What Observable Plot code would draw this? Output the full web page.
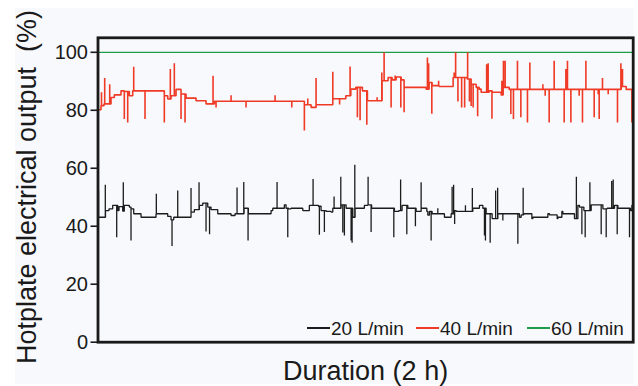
<!DOCTYPE html>
<html>
<head>
<meta charset="utf-8">
<script src="https://cdn.jsdelivr.net/npm/d3@7"></script>
<script src="https://cdn.jsdelivr.net/npm/@observablehq/plot@0.6"></script>
<style>
  html, body { margin: 0; padding: 0; background: #ffffff; }
  #wrap { position: relative; width: 638px; height: 386px; font-family: 'Liberation Sans', Arial, sans-serif; color: #1a1a1a; }
  #bg { position: absolute; left: 15px; top: 8px; width: 619px; height: 376px; background: #f8f9fc; }
  #chart { position: absolute; left: 0; top: 0; }
  .lg { position: absolute; font-size: 19px; line-height: 19px; white-space: nowrap; }
  .sw { position: absolute; height: 1.6px; width: 23px; }
</style>
</head>
<body>
<div id="wrap"><div id="bg"></div><div id="chart"></div><div id="legend"></div></div>
<script>
// time axis: 535 samples over the 2 h run (no ticks on the original)
const durationSamples = 535;
const yTicks = [0, 20, 40, 60, 80, 100];
const seriesNames = ["20 L/min", "40 L/min", "60 L/min"];
const seriesColors = ["#1c1c1c", "#ef3a26", "#1e9b4b"];

// 40 L/min : step levels
const redLevelT = [0,3,6,13,16.3,23,26.3,31.3,34.7,66.3,69.7,73,78,83,88,98,108,116.3,206.3,213,218,234.7,247.7,252.7,257.7,264.3,269.3,284,290,294,298,303,306,328,331,334,341,355,369,373,378,381,383,391,394,403,405,411,523,528];
const redLevelV = [80.2,81.6,82.2,84.4,85.3,86.7,86.5,85.0,86.7,85.0,83.9,85.0,87.2,85.6,84.2,83.3,82.2,83.1,81.9,81.0,81.9,84.0,85.0,87.3,87.9,86.7,83.3,90.2,91.3,90.5,91.5,90.5,87.9,87.3,89.6,88.5,88.2,91.3,90.8,89.0,87.9,87.3,86.2,86.7,86.2,85.3,87.9,87.2,88.2,87.2];
// 40 L/min : spikes
const redUpT = [3.5,6.7,11.7,35.7,72.3,76.3,115,133,177,209.7,218,234.7,252,279,283.7,286,297,329.3,330.5,340.5,356,357.5,369.5,388.5,390,403.7,405.3,407,419.3,431.7,444.7,456,467.7,469.3,487.7,504.3,522.7,524.3];
const redUpV = [86.2,91.1,89.0,95.0,94.2,96.2,91.9,85.2,85.2,84.1,91.1,93.3,95.1,84.5,93.0,100.0,92.0,98.2,96.2,90.2,93.0,100.0,100.0,95.9,96.2,90.2,97.1,97.1,97.1,96.5,89.0,97.1,94.2,97.1,97.1,91.1,96.2,94.2];
const redDownT = [26.3,29.7,47,66.3,83,87,118,148,193.7,206.3,241.5,259.3,262,268.7,293,302.7,306,333.7,359.8,363.5,366.5,371.3,373,375,379.5,393.8,412.7,415.3,422.7,429.3,447,451,466,472.7,481,484.3,496,500,501,510,519.3,533.7];
const redDownV = [77.0,75.8,77.0,75.8,77.0,75.8,81.0,81.0,81.0,73.0,82.0,77.6,76.6,75.0,81.0,81.0,79.3,78.8,83.0,81.0,81.0,83.0,81.5,81.0,77.9,77.1,78.7,77.0,77.6,75.8,85.0,75.8,75.8,75.8,85.0,75.8,77.6,85.5,77.0,85.5,75.8,75.8];

// 20 L/min : step levels
const blackLevelT = [0,7.5,11,14.7,19.7,21,24.7,26.3,31.3,33,35.7,43,58,69.7,73,75.7,93,96.3,101.3,104.7,109.7,113,119.7,133,137,146,150.3,173,174.7,186.3,188,190.5,193,204.7,211.3,220.3,223,228,233,234.7,243,248,254.7,257,266.3,269.7,273.5,296.3,300.7,304,309.7,318,323,328.7,329.7,331.3,334,346.3,353,356.3,358,374.7,381.3,384.7,388,394,399.7,421.3,423,425.5,433.7,434.7,449.7,451.3,459,459.7,463.7,464.7,476.3,479.7,481.3,485.7,493,504.7,509,516.3,519.7,532.3,533.7];
const blackLevelV = [43.1,45.4,46.0,47.2,45.4,46.8,45.2,47.2,46.6,46.0,44.3,43.1,44.3,43.4,42.2,43.1,44.9,45.7,47.2,48.0,46.6,45.7,44.3,43.7,44.3,46.2,44.3,45.4,46.2,47.4,46.2,46.0,46.2,45.4,47.2,46.9,45.4,45.1,44.9,46.2,47.4,46.2,43.1,46.2,47.2,47.4,46.2,45.1,45.4,47.2,46.2,45.1,46.2,45.1,43.8,45.1,44.3,43.1,44.3,45.4,45.1,46.2,47.2,46.2,44.3,42.6,44.3,43.1,43.9,44.3,42.6,43.1,44.3,43.9,42.6,43.1,45.1,44.3,42.6,47.2,46.6,45.4,47.4,46.0,46.2,47.2,46.2,45.4,47.2];
// 20 L/min : spikes
const blackUpT = [0.5,7.3,25.3,58.3,79.7,93,101,139,145.7,179,215,236,242.7,256.7,270,302.5,323,339.7,354,355.5,367.3,374.2,397.5,399.5,425,478.2,491.7,513.5,515];
const blackUpV = [52.3,54.3,55.2,51.2,52.3,53.2,55.2,53.4,55.3,55.3,56.3,50.3,57.1,61.2,57.1,56.1,55.2,46.2,53.6,54.3,47.2,53.2,52.3,53.3,53.3,57.1,55.2,55.6,56.1];
const blackDownT = [18.7,33,74,108,111.5,150,189.7,221.3,226.3,244.7,246.3,253,254,273,295.7,308.7,317.3,333,356.5,386.3,387.3,392,404.7,419.7,483.7,487,503,508,519,531.3];
const blackDownV = [36.2,35.1,33.2,38.2,37.2,35.1,36.2,37.1,38.0,37.8,36.8,35.1,34.3,38.0,36.2,37.2,40.0,35.1,40.8,36.8,35.1,34.3,42.0,34.0,37.2,36.2,37.2,36.2,37.2,36.2];

// 60 L/min : constant full output
const greenT = [0, 535];
const greenV = [100, 100];

function buildPath(levT, levV, upT, upV, dnT, dnV, endT) {
  const ev = [];
  levT.forEach((t, i) => { if (i > 0) ev.push({t, k: 0, v: levV[i]}); });
  upT.forEach((t, i) => ev.push({t, k: 1, v: upV[i]}));
  dnT.forEach((t, i) => ev.push({t, k: 1, v: dnV[i]}));
  ev.sort((a, b) => a.t - b.t || a.k - b.k);
  let cur = levV[0];
  const pts = [{t: levT[0], v: cur}];
  for (const e of ev) {
    if (e.k === 0) { pts.push({t: e.t, v: cur}); cur = e.v; pts.push({t: e.t, v: cur}); }
    else { pts.push({t: e.t, v: cur}, {t: e.t, v: e.v}, {t: e.t, v: cur}); }
  }
  pts.push({t: endT, v: cur});
  return pts;
}

const redPts = buildPath(redLevelT, redLevelV, redUpT, redUpV, redDownT, redDownV, durationSamples);
const blackPts = buildPath(blackLevelT, blackLevelV, blackUpT, blackUpV, blackDownT, blackDownV, durationSamples);
const greenPts = greenT.map((t, i) => ({t, v: greenV[i]}));

const chart = Plot.plot({
  width: 638, height: 386,
  marginLeft: 97.5, marginRight: 5.3, marginTop: 37.3, marginBottom: 44.3,
  x: {domain: [0, durationSamples], axis: null},
  y: {domain: [0, 105], axis: null},
  style: {background: "transparent", fontFamily: "'Liberation Sans', Arial, sans-serif", fontSize: "20px", color: "#1a1a1a", overflow: "visible"},
  marks: [
    Plot.line(greenPts, {x: "t", y: "v", stroke: seriesColors[2], strokeWidth: 1.3}),
    Plot.line(redPts, {x: "t", y: "v", stroke: seriesColors[1], strokeWidth: 1.6, strokeLinejoin: "miter"}),
    Plot.line(blackPts, {x: "t", y: "v", stroke: seriesColors[0], strokeWidth: 1.3, strokeLinejoin: "miter"}),
    Plot.axisY({ticks: yTicks, tickSize: 7, tickPadding: 3, strokeWidth: 1.6, label: null, fontSize: 20, fill: "#1a1a1a"}),
    Plot.frame({stroke: "#1a1a1a", strokeWidth: 2.8}),
    Plot.text(["Hotplate electrical output\u00a0\u00a0(%)"], {text: d => d, frameAnchor: "left", textAnchor: "middle", lineAnchor: "middle", dx: -71, dy: -3, rotate: -90, fontSize: 27, fill: "#1a1a1a"}),
    Plot.text(["Duration (2 h)"], {text: d => d, frameAnchor: "bottom", textAnchor: "middle", lineAnchor: "middle", dy: 29, fontSize: 27, fill: "#1a1a1a"})
  ]
});
document.getElementById("chart").appendChild(chart);

// legend (inside plot, bottom-right)
const legend = document.getElementById("legend");
const legendLeft = [307, 416, 527];
seriesNames.forEach((name, i) => {
  const sw = document.createElement("div");
  sw.className = "sw";
  sw.style.left = legendLeft[i] + "px";
  sw.style.top = "327px";
  sw.style.background = seriesColors[i];
  legend.appendChild(sw);
  const lb = document.createElement("div");
  lb.className = "lg";
  lb.style.left = (legendLeft[i] + 24) + "px";
  lb.style.top = "319px";
  lb.textContent = name;
  legend.appendChild(lb);
});
</script>
</body>
</html>
